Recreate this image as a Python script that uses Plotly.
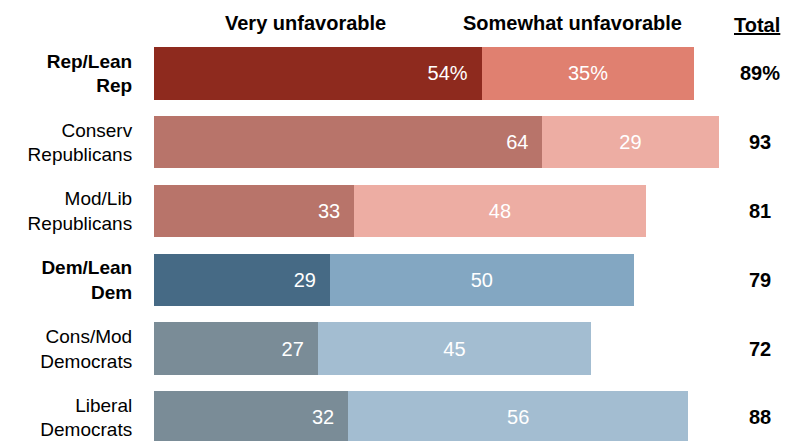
import plotly.graph_objects as go

categories = ["<b>Rep/Lean<br>Rep</b>", "Conserv<br>Republicans", "Mod/Lib<br>Republicans",
              "<b>Dem/Lean<br>Dem</b>", "Cons/Mod<br>Democrats", "Liberal<br>Democrats"]
very = [54, 64, 33, 29, 27, 32]
somewhat = [35, 29, 48, 50, 45, 56]
totals = [89, 93, 81, 79, 72, 88]

very_colors = ["#8E2A1E", "#B8746A", "#B8746A", "#466A85", "#7A8C97", "#7A8C97"]
some_colors = ["#E08070", "#EDADA3", "#EDADA3", "#83A7C2", "#A3BDD1", "#A3BDD1"]

pad = "\u00a0\u00a0"
very_text = [f"{v}%{pad}" if i == 0 else f"{v}{pad}" for i, v in enumerate(very)]
some_text = [f"{v}%" if i == 0 else f"{v}" for i, v in enumerate(somewhat)]
total_text = [f"<b>{t}%</b>" if i == 0 else f"<b>{t}</b>" for i, t in enumerate(totals)]

FONT = "Liberation Sans, Arial, sans-serif"

W, H = 793, 441
L, T = 154, 39
pw, ph = W - L, H - T

fig = go.Figure()
fig.add_trace(go.Bar(y=categories, x=very, orientation="h", marker=dict(color=very_colors, line=dict(width=0)),
                     text=very_text, textposition="inside", insidetextanchor="end",
                     textfont=dict(color="white", size=20, family=FONT), textangle=0,
                     hoverinfo="skip"))
fig.add_trace(go.Bar(y=categories, x=somewhat, orientation="h", marker=dict(color=some_colors, line=dict(width=0)),
                     text=some_text, textposition="inside", insidetextanchor="middle",
                     textfont=dict(color="white", size=20, family=FONT), textangle=0,
                     hoverinfo="skip"))

for c, t in zip(categories, total_text):
    fig.add_annotation(x=(760 - L) / pw, y=c, xref="paper", yref="y", text=t, showarrow=False,
                       font=dict(size=20, color="black", family=FONT), xanchor="center", yanchor="middle")

headers = [("<b>Very unfavorable</b>", 305, 23), ("<b>Somewhat unfavorable</b>", 572, 23),
           ("<b><u>Total</u></b>", 757, 25)]
for txt, px, py in headers:
    fig.add_annotation(x=(px - L) / pw, y=1 - (py - T) / ph, xref="paper", yref="paper", text=txt,
                       showarrow=False, xanchor="center", yanchor="middle",
                       font=dict(size=20, color="black", family=FONT))

fig.update_layout(
    barmode="stack", bargap=0.24,
    width=W, height=H, margin=dict(l=L, r=0, t=T, b=0),
    paper_bgcolor="white", plot_bgcolor="white",
    showlegend=False,
    xaxis=dict(range=[0, pw / 6.07], visible=False, fixedrange=True),
    yaxis=dict(range=[5.343, -0.5], showgrid=False, zeroline=False, showline=False,
               ticks="outside", ticklen=17, tickcolor="rgba(0,0,0,0)",
               tickfont=dict(size=19, color="black", family=FONT)),
    font=dict(family=FONT),
)

fig.write_html("out.html")
